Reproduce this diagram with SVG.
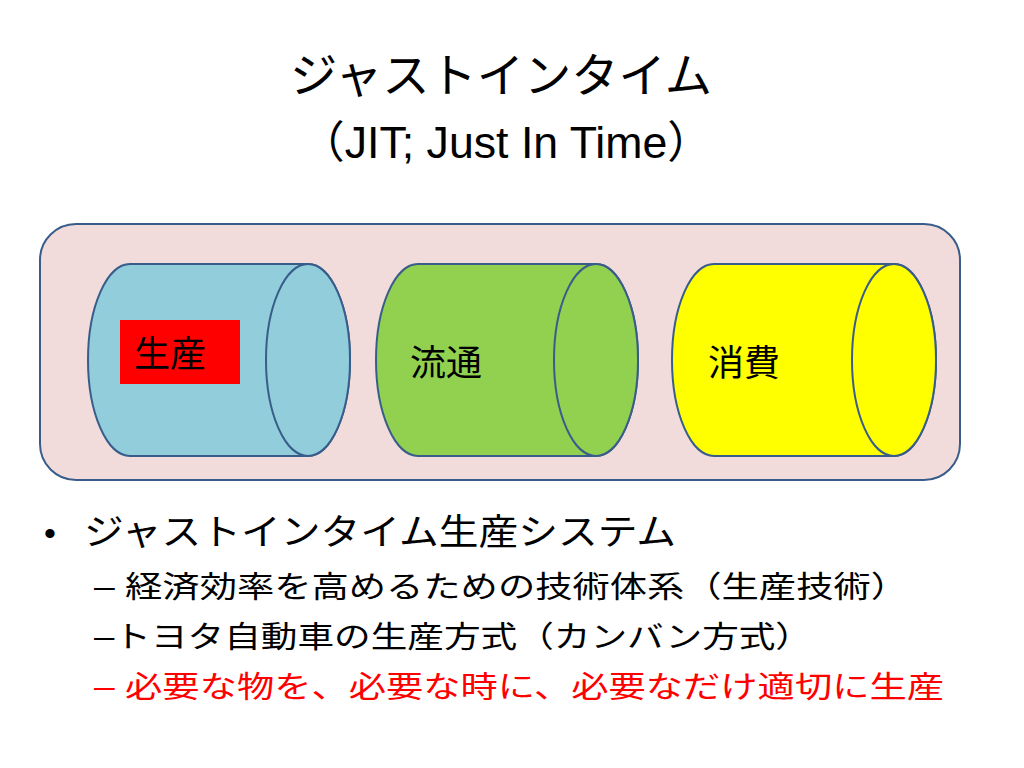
<svg xmlns="http://www.w3.org/2000/svg" width="1024" height="768" viewBox="0 0 1024 768">
<style>
text{font-family:"Liberation Sans","Noto Sans CJK JP",sans-serif;fill:#000}
.cyl{stroke:#385D8A;stroke-width:2}
.lbl{font-size:36px}
.sub{font-size:30px}
</style>
<rect width="1024" height="768" fill="#fff"/>
<text x="290" y="92" font-size="47" textLength="422" lengthAdjust="spacingAndGlyphs">ジャストインタイム</text>
<text x="300" y="158" font-size="44" textLength="412" lengthAdjust="spacingAndGlyphs">（JIT; Just In Time）</text>
<g id="container"><rect x="40" y="224" width="920" height="256" rx="36" fill="#F2DCDB" stroke="#385D8A" stroke-width="2"/></g>
<g id="seisan">
<path class="cyl" fill="#92CDDC" d="M130,264 L308,264 A42,96 0 0 1 308,456 L130,456 A42,96 0 0 1 130,264 Z"/>
<ellipse class="cyl" fill="#92CDDC" cx="308" cy="360" rx="42" ry="96"/>
<rect x="120" y="320" width="120" height="64" fill="#FF0000"/>
<text class="lbl" x="134" y="367">生産</text>
</g>
<g id="ryutsu">
<path class="cyl" fill="#92D050" d="M418,264 L596,264 A42,96 0 0 1 596,456 L418,456 A42,96 0 0 1 418,264 Z"/>
<ellipse class="cyl" fill="#92D050" cx="596" cy="360" rx="42" ry="96"/>
<text class="lbl" x="410" y="376">流通</text>
</g>
<g id="shohi">
<path class="cyl" fill="#FFFF00" d="M714,264 L894,264 A42,96 0 0 1 894,456 L714,456 A42,96 0 0 1 714,264 Z"/>
<ellipse class="cyl" fill="#FFFF00" cx="894" cy="360" rx="42" ry="96"/>
<text class="lbl" x="708" y="376">消費</text>
</g>
<g id="connectors"></g>
<text x="44" y="545" font-size="34">•</text>
<text x="84" y="545" font-size="36" textLength="592" lengthAdjust="spacingAndGlyphs">ジャストインタイム生産システム</text>
<text class="sub" x="94" y="597" textLength="814" lengthAdjust="spacingAndGlyphs">– 経済効率を高めるための技術体系（生産技術）</text>
<text class="sub" x="94" y="647" textLength="718" lengthAdjust="spacingAndGlyphs">–トヨタ自動車の生産方式（カンバン方式）</text>
<text class="sub" x="94" y="697" style="fill:#FF0000" font-size="32" textLength="850" lengthAdjust="spacingAndGlyphs">– 必要な物を、必要な時に、必要なだけ適切に生産</text>
</svg>
